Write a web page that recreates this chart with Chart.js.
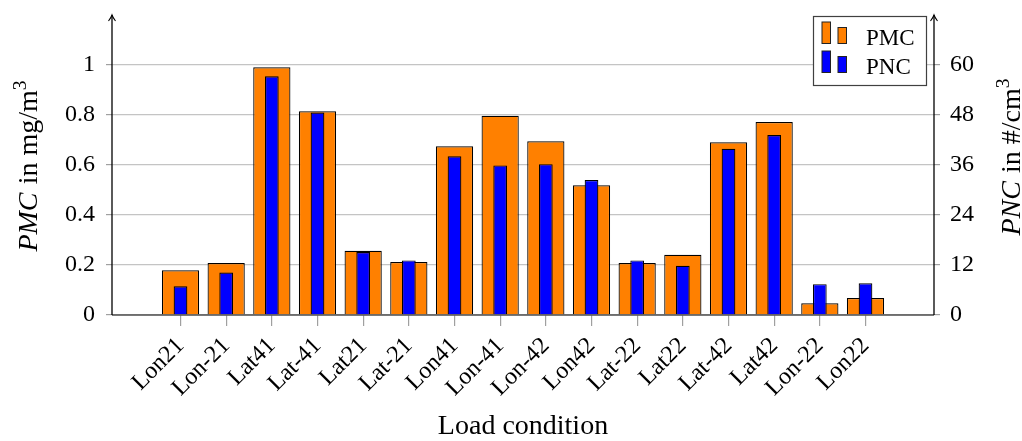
<!DOCTYPE html>
<html>
<head>
<meta charset="utf-8">
<script src="https://cdn.jsdelivr.net/npm/chart.js@4.4.1/dist/chart.umd.min.js"></script>
<style>
  html, body { margin: 0; padding: 0; background: #ffffff; }
  #wrap { width: 1022px; height: 441px; }
</style>
</head>
<body>
<div id="wrap"><canvas id="chart" width="1022" height="441"></canvas></div>
<script>
// Load conditions on the horizontal axis
const categories = ['Lon21', 'Lon-21', 'Lat41', 'Lat-41', 'Lat21', 'Lat-21', 'Lon41', 'Lon-41',
                    'Lon-42', 'Lon42', 'Lat-22', 'Lat22', 'Lat-42', 'Lat42', 'Lon-22', 'Lon22'];
// Particle mass concentration, mg/m^3 (left axis)
const pmcValues = [0.179, 0.208, 0.991, 0.815, 0.257, 0.212, 0.675, 0.797,
                   0.695, 0.519, 0.208, 0.241, 0.691, 0.772, 0.047, 0.068];
// Particle number concentration, #/cm^3 (right axis)
const pncValues = [6.9, 10.2, 57.3, 48.6, 15.1, 13.1, 38.1, 35.9,
                   36.2, 32.4, 13.1, 11.8, 39.9, 43.2, 7.4, 7.6];
// Tick labels
const pmcTicks = [0, 0.2, 0.4, 0.6, 0.8, 1];
const pncTicks = [0, 12, 24, 36, 48, 60];

const SERIF = "'Liberation Serif', 'Times New Roman', serif";
const ORANGE = '#ff8000';
const BLUE = '#0000ff';

function toPoints(values) {
  return values.map((v, i) => ({ x: i, y: v }));
}

// Rotated axis title made of styled runs (italic symbol, plain text, superscript);
// baselineX is where the text baseline sits after rotation.
function drawRunsVertical(ctx, baselineX, cy, runs, size) {
  ctx.save();
  ctx.translate(baselineX, cy);
  ctx.rotate(-Math.PI / 2);
  ctx.textBaseline = 'alphabetic';
  ctx.textAlign = 'left';
  let total = 0;
  const widths = runs.map(r => {
    const s = r.sup ? size * 0.7 : size;
    ctx.font = (r.italic ? 'italic ' : '') + s + 'px ' + SERIF;
    const w = ctx.measureText(r.text).width + (r.italic ? size * 0.04 : 0);
    total += w;
    return w;
  });
  let x = -total / 2;
  runs.forEach((r, i) => {
    const s = r.sup ? size * 0.7 : size;
    ctx.font = (r.italic ? 'italic ' : '') + s + 'px ' + SERIF;
    ctx.fillStyle = '#000';
    ctx.fillText(r.text, x, r.sup ? -size * 0.4 : 0);
    x += widths[i];
  });
  ctx.restore();
}

function drawArrowAxis(ctx, x, yBottom, yTop) {
  ctx.save();
  ctx.strokeStyle = '#000';
  ctx.lineWidth = 1.3;
  ctx.beginPath();
  ctx.moveTo(x, yBottom);
  ctx.lineTo(x, yTop);
  ctx.stroke();
  ctx.lineWidth = 1.1;
  ctx.beginPath();
  ctx.moveTo(x - 3.5, yTop + 6);
  ctx.quadraticCurveTo(x - 0.8, yTop + 2.5, x, yTop);
  ctx.quadraticCurveTo(x + 0.8, yTop + 2.5, x + 3.5, yTop + 6);
  ctx.stroke();
  ctx.restore();
}

const decorations = {
  id: 'decorations',
  afterDraw(chart) {
    const ctx = chart.ctx;
    const area = chart.chartArea;

    // bottom axis line
    ctx.save();
    ctx.strokeStyle = '#505050';
    ctx.lineWidth = 1.3;
    ctx.beginPath();
    ctx.moveTo(area.left, area.bottom);
    ctx.lineTo(area.right, area.bottom);
    ctx.stroke();
    ctx.restore();

    // vertical axes with arrow heads
    drawArrowAxis(ctx, area.left, area.bottom, area.top);
    drawArrowAxis(ctx, area.right, area.bottom, area.top);

    // axis titles
    drawRunsVertical(ctx, 37, 166, [
      { text: 'PMC', italic: true },
      { text: ' in mg/m' },
      { text: '3', sup: true }
    ], 28);
    drawRunsVertical(ctx, 1020, 157, [
      { text: 'PNC', italic: true },
      { text: ' in #/cm' },
      { text: '3', sup: true }
    ], 28);

    // legend
    const lx = 813, ly = 16, lw = 114, lh = 70;
    ctx.save();
    ctx.fillStyle = '#ffffff';
    ctx.fillRect(lx, ly, lw, lh);
    ctx.strokeStyle = '#404040';
    ctx.lineWidth = 1.2;
    ctx.strokeRect(lx + 0.5, ly + 0.5, lw - 1, lh - 1);
    const entries = [
      { label: chart.data.datasets[1].label, color: ORANGE, top: 22, baseY: 45 },
      { label: chart.data.datasets[0].label, color: BLUE, top: 51, baseY: 74 }
    ];
    entries.forEach(e => {
      ctx.fillStyle = e.color;
      ctx.strokeStyle = '#222';
      ctx.lineWidth = 1;
      ctx.fillRect(822, e.top, 8.5, 21.5);
      ctx.strokeRect(822, e.top, 8.5, 21.5);
      ctx.fillRect(838, e.top + 5.5, 8.5, 16);
      ctx.strokeRect(838, e.top + 5.5, 8.5, 16);
      ctx.fillStyle = '#000';
      ctx.font = '23px ' + SERIF;
      ctx.textAlign = 'left';
      ctx.textBaseline = 'alphabetic';
      ctx.fillText(e.label, 866, e.baseY);
    });
    ctx.restore();
  }
};

const tickFont = { family: SERIF, size: 24 };

function noEdgePadding(scale) {
  scale.paddingTop = 0;
  scale.paddingBottom = 0;
  scale.paddingLeft = 0;
  scale.paddingRight = 0;
}

new Chart(document.getElementById('chart').getContext('2d'), {
  type: 'bar',
  data: {
    datasets: [
      {
        label: 'PNC',
        data: toPoints(pncValues),
        yAxisID: 'y2',
        backgroundColor: BLUE,
        borderColor: '#000000',
        borderWidth: 1.2,
        barPercentage: 0.3,
        categoryPercentage: 1,
        grouped: false,
        order: 1
      },
      {
        label: 'PMC',
        data: toPoints(pmcValues),
        yAxisID: 'y',
        backgroundColor: ORANGE,
        borderColor: '#000000',
        borderWidth: 1.2,
        barPercentage: 0.815,
        categoryPercentage: 1,
        grouped: false,
        order: 2
      }
    ]
  },
  options: {
    responsive: false,
    animation: false,
    devicePixelRatio: 1,
    layout: { padding: { top: 15, left: 0, right: 0, bottom: 0 } },
    plugins: { legend: { display: false }, tooltip: { enabled: false } },
    scales: {
      x: {
        type: 'linear',
        offset: false,
        min: -1.5,
        max: 16.5,
        afterBuildTicks(scale) { scale.ticks = categories.map((_, i) => ({ value: i })); },
        afterFit(scale) { scale.height = 126; noEdgePadding(scale); },
        ticks: {
          callback: (v) => categories[v],
          autoSkip: false,
          minRotation: 45,
          maxRotation: 45,
          color: '#000',
          font: tickFont,
          padding: 6
        },
        grid: { offset: false, drawOnChartArea: false, drawTicks: true, tickLength: 11, tickColor: '#a0a0a0', lineWidth: 1.2 },
        border: { display: false },
        title: {
          display: true,
          text: 'Load condition',
          color: '#000',
          font: { family: SERIF, size: 28, lineHeight: 1 },
          padding: { top: 0, bottom: 0 }
        }
      },
      y: {
        position: 'left',
        min: 0,
        max: 1.2,
        afterBuildTicks(scale) { scale.ticks = pmcTicks.map(v => ({ value: v })); },
        afterFit(scale) { scale.width = 112; noEdgePadding(scale); },
        ticks: { callback: (v) => String(v), color: '#000', font: tickFont, padding: 11 },
        grid: { color: '#c4c4c4', lineWidth: 1.2, tickLength: 6, tickColor: '#a0a0a0' },
        border: { display: false }
      },
      y2: {
        position: 'right',
        min: 0,
        max: 72,
        afterBuildTicks(scale) { scale.ticks = pncTicks.map(v => ({ value: v })); },
        afterFit(scale) { scale.width = 88; noEdgePadding(scale); },
        ticks: { callback: (v) => String(v), color: '#000', font: tickFont, padding: 10 },
        grid: { drawOnChartArea: false, tickLength: 6, tickColor: '#a0a0a0', lineWidth: 1.2 },
        border: { display: false }
      }
    }
  },
  plugins: [decorations]
});
</script>
</body>
</html>
